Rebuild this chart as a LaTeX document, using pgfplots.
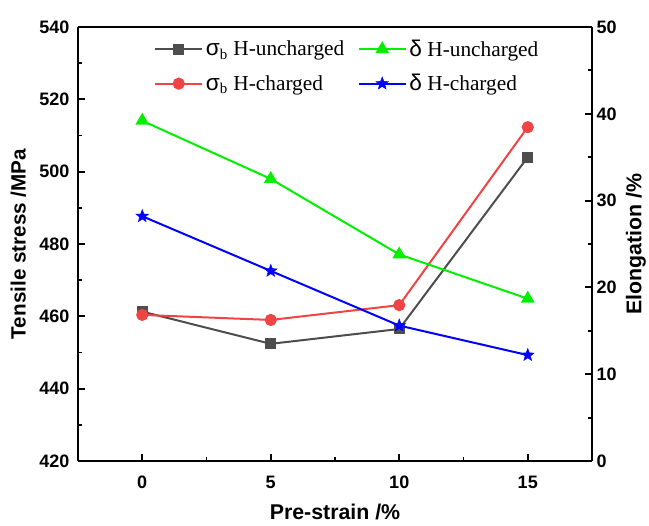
\documentclass[border=0pt]{standalone}
\usepackage{pgfplots}
\pgfplotsset{compat=1.18}
\usepackage{fontspec}
\setmainfont{Liberation Sans}
\newfontfamily\timesf{Liberation Serif}
\newfontfamily\sansg{Liberation Sans}
\definecolor{cgray}{HTML}{4D4D4D}
\definecolor{cred}{HTML}{F04444}
\definecolor{cgreen}{HTML}{00F000}
\definecolor{cblue}{HTML}{0000FF}
\pgfdeclareplotmark{fstar}{%
  \pgfpathmoveto{\pgfpointpolar{90}{\pgfplotmarksize}}%
  \pgfpathlineto{\pgfpointpolar{126}{0.42\pgfplotmarksize}}%
  \pgfpathlineto{\pgfpointpolar{162}{\pgfplotmarksize}}%
  \pgfpathlineto{\pgfpointpolar{198}{0.42\pgfplotmarksize}}%
  \pgfpathlineto{\pgfpointpolar{234}{\pgfplotmarksize}}%
  \pgfpathlineto{\pgfpointpolar{270}{0.42\pgfplotmarksize}}%
  \pgfpathlineto{\pgfpointpolar{306}{\pgfplotmarksize}}%
  \pgfpathlineto{\pgfpointpolar{342}{0.42\pgfplotmarksize}}%
  \pgfpathlineto{\pgfpointpolar{18}{\pgfplotmarksize}}%
  \pgfpathlineto{\pgfpointpolar{54}{0.42\pgfplotmarksize}}%
  \pgfpathclose\pgfusepathqfillstroke}
\begin{document}
\begin{tikzpicture}
\pgfplotsset{
  common/.style={
    scale only axis, width=385.5pt, height=325.5pt,
    xmin=-2.5, xmax=17.5,
    tick align=inside,
    major tick length=5pt, minor tick length=3pt,
    every tick/.style={black, line width=1.4pt},
    /pgf/number format/assume math mode=true,
    tick label style={font=\bfseries\fontsize{13.5}{16}\selectfont},
    label style={font=\bfseries\fontsize{15.5}{18}\selectfont},
    xticklabel={\textbf{\pgfmathprintnumber{\tick}}},
    yticklabel={\textbf{\pgfmathprintnumber{\tick}}},
    axis line style={line width=1.8pt},
    clip=false,
  },
  legend image code/.code={\draw[mark repeat=2,mark phase=2,#1] plot coordinates {(0cm,0cm) (0.62cm,0cm) (1.24cm,0cm)};},
}
\begin{axis}[common, name=ax,
  separate axis lines,
  xtick={0,5,10,15}, minor x tick num=1,
  xtick pos=bottom, ytick pos=left,
  ymin=420, ymax=540, ytick={420,440,...,540}, minor y tick num=1,
  xticklabel style={yshift=-7.5pt},
  yticklabel style={xshift=-3pt},
  xlabel={Pre-strain /\%}, ylabel={Tensile stress /MPa},
  xlabel style={yshift=-5pt, font=\bfseries\fontsize{16}{18}\selectfont},
  ylabel style={yshift=3pt},
]
\addplot[cgray, line width=1.5pt, mark=square*, mark size=3.3pt] coordinates {(0,461.3) (5,452.4) (10,456.5) (15,504.0)};
\addplot[cred, line width=1.5pt, mark=*, mark size=3.8pt] coordinates {(0,460.4) (5,459.0) (10,463.1) (15,512.3)};
\end{axis}
\begin{axis}[common,
  hide x axis, axis y line*=right,
  ymin=0, ymax=50, ytick={0,10,...,50}, minor y tick num=1,
  ylabel={Elongation /\%},
  ylabel style={font=\bfseries\fontsize{16}{18}\selectfont},
  legend cell align=left,
  legend style={at={(0.14,0.983)}, anchor=north west, draw=none, fill=none,
    legend columns=2, font=\timesf\fontsize{16}{18}\selectfont,
    /tikz/every even column/.append style={column sep=8pt},
    row sep=8pt},
]
\addlegendimage{cgray, line width=1.5pt, mark=square*, mark size=3.3pt}
\addlegendentry{{\sansg\fontsize{17}{18}\selectfont σ}\textsubscript{b} H-uncharged}
\addlegendimage{cgreen, line width=1.5pt, mark=triangle*, mark size=4.5pt}
\addlegendentry{{\sansg\fontsize{17}{18}\selectfont δ} H-uncharged}
\addlegendimage{cred, line width=1.5pt, mark=*, mark size=3.8pt}
\addlegendentry{{\sansg\fontsize{17}{18}\selectfont σ}\textsubscript{b} H-charged}
\addlegendimage{cblue, line width=1.5pt, mark=fstar, mark size=5pt, mark options={line width=0.3pt}}
\addlegendentry{{\sansg\fontsize{17}{18}\selectfont δ} H-charged}
\addplot[cgreen, line width=1.5pt, mark=triangle*, mark size=4.5pt, forget plot] coordinates {(0,39.2) (5,32.5) (10,23.8) (15,18.7)};
\addplot[cblue, line width=1.5pt, mark=fstar, mark size=5pt, mark options={line width=0.3pt}, forget plot] coordinates {(0,28.2) (5,21.9) (10,15.6) (15,12.2)};
\end{axis}
\pgfresetboundingbox
\path[use as bounding box] (ax.south west) ++(-58.5pt,-48pt) rectangle ([shift={(42.75pt,20.25pt)}]ax.north east);
\end{tikzpicture}
\end{document}
